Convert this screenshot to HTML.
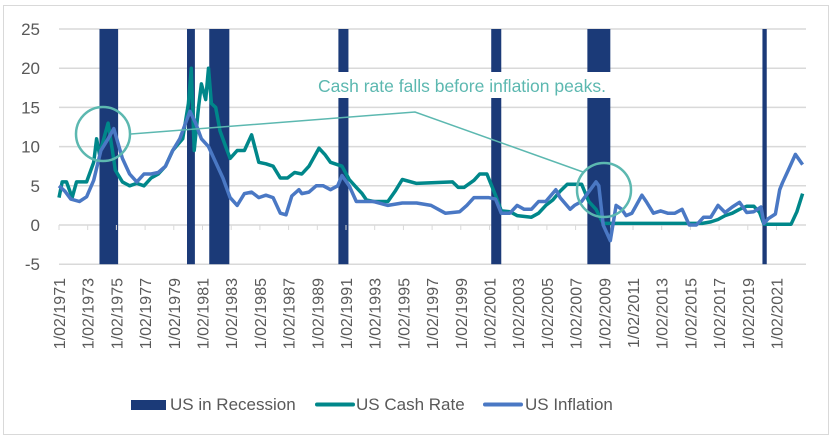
<!DOCTYPE html>
<html><head><meta charset="utf-8"><style>
html,body{margin:0;padding:0;background:#fff;}
svg{display:block;font-family:"Liberation Sans",sans-serif;}
</style></head><body>
<svg id="chart" width="838" height="440" viewBox="0 0 838 440">
<rect x="3.5" y="5.5" width="825" height="429" fill="#fff" stroke="#d9d9d9"/>
<g id="grid"></g>
<g id="rec"></g>
<g id="xticks"></g>
<g id="series"></g>
<g id="annot">
<rect x="300" y="72" width="360" height="26" fill="#fff"/>
<text x="318" y="92" font-size="17.5" fill="#5cb8b0">Cash rate falls before inflation peaks.</text>
<circle cx="103" cy="134" r="27" fill="none" stroke="#5cb8b0" stroke-width="2.5"/>
<circle cx="604" cy="190" r="27" fill="none" stroke="#5cb8b0" stroke-width="2.5"/>
<polyline points="131,134 415,112 583,172" fill="none" stroke="#5cb8b0" stroke-width="1.5"/>
</g>
<g>
<rect x="131" y="400" width="35" height="10" fill="#1b3a78"/>
<text x="170" y="410" font-size="17" fill="#595959">US in Recession</text>
<line x1="317" y1="404.5" x2="353" y2="404.5" stroke="#00878a" stroke-width="4" stroke-linecap="round"/>
<text x="356" y="410" font-size="17" fill="#595959">US Cash Rate</text>
<line x1="485" y1="404.5" x2="521" y2="404.5" stroke="#4a78c4" stroke-width="4" stroke-linecap="round"/>
<text x="525" y="410" font-size="17" fill="#595959">US Inflation</text>
</g>
</svg>
<script>
const yTicks=[-5,0,5,10,15,20,25];
const xTickYears=[1971,1973,1975,1977,1979,1981,1983,1985,1987,1989,1991,1993,1995,1997,1999,2001,2003,2005,2007,2009,2011,2013,2015,2017,2019,2021];
const recStart=[1973.9,1980.0,1981.55,1990.55,2001.2,2007.9,2020.1];
const recEnd=[1975.2,1980.55,1982.95,1991.25,2001.9,2009.5,2020.4];
const cashT=[1971.08,1971.3,1971.6,1972.0,1972.3,1973.0,1973.5,1973.7,1973.9,1974.5,1974.8,1975.0,1975.5,1976.0,1976.5,1977.0,1977.5,1978.0,1978.5,1979.0,1979.7,1980.1,1980.3,1980.5,1980.8,1981.0,1981.3,1981.5,1981.7,1982.0,1982.3,1982.7,1983.0,1983.5,1984.0,1984.5,1985.0,1985.5,1986.0,1986.5,1987.0,1987.5,1988.0,1988.5,1989.2,1989.6,1990.0,1990.8,1991.3,1991.8,1992.2,1992.5,1993.0,1994.0,1994.5,1995.0,1996.0,1998.5,1998.9,1999.3,2000.0,2000.4,2000.9,2001.5,2001.9,2002.5,2003.0,2004.0,2004.5,2005.0,2005.5,2006.0,2006.5,2007.5,2008.0,2008.5,2009.0,2015.9,2016.5,2017.0,2017.5,2018.0,2018.5,2019.0,2019.5,2019.9,2020.2,2022.1,2022.5,2022.9];
const cashV=[3.5,5.5,5.5,3.5,5.5,5.5,8,11,9,13,9.5,7,5.5,5,5.3,5,6,6.5,7.5,9.5,11,15.5,20,9.5,15,18,16,20,15.5,15,12,10,8.5,9.5,9.5,11.5,8,7.8,7.5,6,6,6.7,6.5,7.5,9.8,9,8,7.5,5.8,4.8,4,3.2,3,3,4.3,5.8,5.3,5.5,4.8,4.8,5.7,6.5,6.5,3.8,1.8,1.7,1.2,1,1.5,2.5,3.2,4.3,5.2,5.2,3,2,0.2,0.2,0.4,0.7,1.2,1.5,2,2.4,2.4,1.6,0.1,0.1,1.7,4];
const inflT=[1971.08,1971.5,1971.9,1972.5,1973.0,1973.5,1974.0,1974.5,1974.9,1975.5,1976.0,1976.5,1977.0,1977.5,1978.0,1978.5,1979.0,1979.5,1980.2,1980.6,1981.0,1981.5,1982.0,1982.5,1983.0,1983.5,1984.0,1984.5,1985.0,1985.5,1986.0,1986.5,1986.9,1987.3,1987.8,1988.0,1988.5,1989.0,1989.5,1990.0,1990.5,1990.8,1991.3,1991.8,1992.0,1993.0,1994.0,1995.0,1996.0,1997.0,1998.0,1999.0,1999.5,2000.0,2000.5,2001.0,2001.5,2001.9,2002.5,2003.0,2003.5,2004.0,2004.5,2005.0,2005.7,2006.0,2006.7,2007.0,2007.5,2007.9,2008.5,2008.7,2009.0,2009.5,2009.9,2010.3,2010.6,2011.0,2011.7,2012.0,2012.5,2013.0,2013.5,2014.0,2014.5,2015.0,2015.5,2016.0,2016.5,2017.0,2017.5,2018.0,2018.5,2019.0,2019.5,2020.0,2020.2,2020.5,2021.0,2021.3,2021.5,2021.9,2022.4,2022.9];
const inflV=[5,4.3,3.3,3,3.6,5.7,9.5,11,12.3,8.5,6.5,5.5,6.5,6.5,6.7,7.5,9.5,11,14.5,13,11,10,8,6,3.5,2.5,4,4.2,3.5,3.8,3.5,1.5,1.3,3.7,4.5,4,4.2,5,5,4.5,5,6.3,5,3,3,3,2.5,2.8,2.8,2.5,1.5,1.7,2.5,3.5,3.5,3.5,3.3,1.5,1.5,2.5,2,2,3,3,4.5,3.5,2,2.5,3,4,5.5,5,0,-2,2.5,2,1.2,1.5,3.8,3,1.5,1.8,1.5,1.5,2,0,0,1,1,2.5,1.6,2.3,2.9,1.6,1.7,2.3,0.2,0.8,1.4,4.5,5.4,7,9,7.7];

const NS='http://www.w3.org/2000/svg';
const X0=59,PXY=14.35,Y0=225,PXU=7.84;
function xs(t){return X0+(t-1971.08)*PXY;}
function ys(v){return Y0-v*PXU;}
function mk(tag,attrs,parent){const e=document.createElementNS(NS,tag);for(const k in attrs)e.setAttribute(k,attrs[k]);parent.appendChild(e);return e;}
const grid=document.getElementById('grid');
yTicks.forEach(v=>{
  const l=mk('line',{x1:59,x2:806,y1:ys(v),y2:ys(v),stroke:'#d9d9d9','stroke-width':1.5},grid);
  
  
  const t=mk('text',{x:40,y:ys(v)+6,'font-size':17,fill:'#595959','text-anchor':'end'},grid);
  t.textContent=String(v);
  
  
});
const rec=document.getElementById('rec');
recStart.forEach((s,i)=>{
  const r=mk('rect',{x:xs(s),y:ys(25),width:Math.max(3,xs(recEnd[i])-xs(s)),height:ys(-5)-ys(25),fill:'#1b3a78'},rec);
  
  
});
const xt=document.getElementById('xticks');
xTickYears.forEach(y=>{
  const x=xs(y+0.08);
  const l=mk('line',{x1:x,x2:x,y1:Y0,y2:Y0+5,stroke:'#d9d9d9','stroke-width':1},xt);
  
  
  const t=mk('text',{x:0,y:0,'font-size':16,fill:'#595959','text-anchor':'end',transform:'translate('+(x+6)+',278) rotate(-90)'},xt);
  t.textContent='1/02/'+y;
  
  
});
const ser=document.getElementById('series');
function line(T,V,color,name){
  const p=mk('polyline',{points:T.map((t,i)=>xs(t).toFixed(1)+','+ys(V[i]).toFixed(1)).join(' '),fill:'none',stroke:color,'stroke-width':3.5,'stroke-linejoin':'round'},ser);
  
  
}
line(cashT,cashV,'#00878a','cash-rate-line');
line(inflT,inflV,'#4a78c4','inflation-line');
</script>
</body></html>
